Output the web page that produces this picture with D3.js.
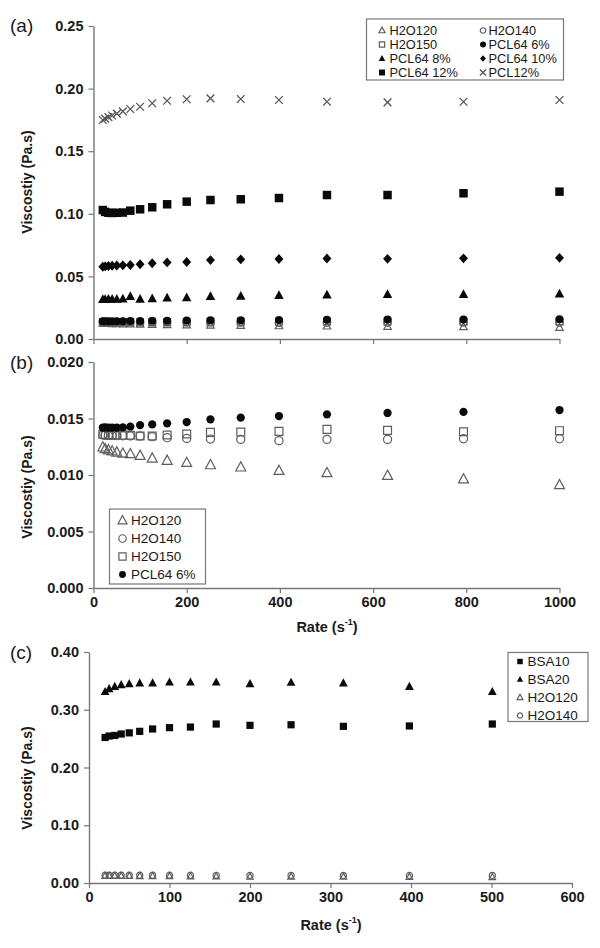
<!DOCTYPE html>
<html><head><meta charset="utf-8">
<script src="https://cdnjs.cloudflare.com/ajax/libs/d3/7.8.5/d3.min.js"></script>
<style>
body{margin:0;background:#fff;}
svg{display:block;font-family:"Liberation Sans",Arial,sans-serif;}
</style></head>
<body><svg id="c" width="600" height="948"></svg>
<script>
// ---------- data ----------
const rateAB = [20,25,32,40,50,63,79,100,126,158,200,251,316,398,501,631,794,1000];
const h2o120 = [0.01245,0.0123,0.0122,0.0121,0.0120,0.0119,0.01186,0.01171,0.01147,0.01127,0.01109,0.01088,0.01068,0.01038,0.01018,0.00994,0.00962,0.00912];
const h2o140 = [0.01354,0.01352,0.0135,0.0135,0.01348,0.01347,0.01346,0.01345,0.01339,0.0133,0.01324,0.01318,0.01315,0.01304,0.01315,0.01315,0.01321,0.01321];
const h2o150 = [0.0136,0.01358,0.01356,0.01355,0.01354,0.01353,0.01352,0.01345,0.01345,0.01354,0.01363,0.01377,0.0138,0.01386,0.01404,0.01395,0.01383,0.01392];
const pcl64_6 = [0.0142,0.01421,0.0142,0.01419,0.0142,0.01421,0.01428,0.01442,0.01448,0.01457,0.01469,0.01493,0.01507,0.01522,0.01537,0.01549,0.01558,0.01575];
const pcl64_8 = [0.0315,0.0316,0.0317,0.0318,0.0318,0.0319,0.0340,0.0318,0.0321,0.0328,0.0330,0.0340,0.0342,0.0347,0.0352,0.0355,0.0356,0.0359];
const pcl64_10 = [0.0577,0.0580,0.0583,0.0585,0.0587,0.0589,0.0591,0.0597,0.0605,0.0612,0.0615,0.0630,0.0636,0.0639,0.0643,0.0640,0.0644,0.0648];
const pcl64_12 = [0.1030,0.1015,0.1008,0.1007,0.1008,0.1010,0.1025,0.1036,0.1052,0.1076,0.1097,0.1110,0.1116,0.1126,0.1150,0.1150,0.1164,0.1177];
const pcl12 = [0.1749,0.1760,0.1772,0.1785,0.1800,0.1818,0.1837,0.1855,0.1883,0.1903,0.1915,0.1922,0.1917,0.1909,0.1895,0.1890,0.1895,0.1909];

const rateC = [20,25,32,40,50,63,79,100,126,158,200,251,316,398,501];
const bsa10 = [0.252,0.2545,0.2555,0.258,0.260,0.2626,0.2667,0.269,0.270,0.2753,0.273,0.274,0.2713,0.2719,0.2753];
const bsa20 = [0.331,0.336,0.340,0.343,0.3446,0.346,0.346,0.3475,0.3475,0.3475,0.3446,0.347,0.346,0.340,0.331];
const h2o120c = [0.0124,0.0123,0.0122,0.0121,0.0120,0.0119,0.0119,0.0117,0.0115,0.0113,0.0111,0.0109,0.0107,0.0104,0.0102];
const h2o140c = [0.0135,0.0135,0.0135,0.0135,0.0135,0.0135,0.0135,0.0134,0.0134,0.0133,0.0132,0.0132,0.0131,0.0130,0.0131];

const ticksAB = [0,200,400,600,800,1000];
const ticksA_y = [0,0.05,0.10,0.15,0.20,0.25];
const ticksB_y = [0,0.005,0.010,0.015,0.020];
const ticksC_x = [0,100,200,300,400,500,600];
const ticksC_y = [0,0.10,0.20,0.30,0.40];

// ---------- symbols ----------
const T = {
  tri:{draw(c,s){const w=Math.sqrt(s),h=w*0.92;c.moveTo(0,-h*0.6);c.lineTo(w/2,h*0.4);c.lineTo(-w/2,h*0.4);c.closePath();}},
  sq:{draw(c,s){const w=Math.sqrt(s)/2;c.moveTo(-w,-w);c.lineTo(w,-w);c.lineTo(w,w);c.lineTo(-w,w);c.closePath();}},
  circ:{draw(c,s){const r=Math.sqrt(s)/2;c.moveTo(r,0);c.arc(0,0,r,0,2*Math.PI);}},
  diam:{draw(c,s){const w=Math.sqrt(s);c.moveTo(0,-w*0.55);c.lineTo(w*0.5,0);c.lineTo(0,w*0.55);c.lineTo(-w*0.5,0);c.closePath();}},
  x:{draw(c,s){const w=Math.sqrt(s)/2;c.moveTo(-w,-w);c.lineTo(w,w);c.moveTo(w,-w);c.lineTo(-w,w);}}
};
function styleSym(sel, kind){
  if(kind==='open'){sel.attr('fill','none').attr('stroke','#5e5e5e').attr('stroke-width',1.2);}
  else if(kind==='x'){sel.attr('fill','none').attr('stroke','#555').attr('stroke-width',1.3);}
  else {sel.attr('fill','#0a0a0a').attr('stroke','none');}
}

const svg = d3.select('#c');
const FONT = '"Liberation Sans",Arial,sans-serif';

function drawAxes(g, x, y, xTicks, yTicks, yFmt, showXLabels){
  const ya = g.append('g').attr('transform',`translate(${x.range()[0]},0)`)
    .call(d3.axisLeft(y).tickValues(yTicks).tickFormat(d3.format(yFmt)).tickSize(5).tickSizeOuter(0).tickPadding(5));
  const xa = g.append('g').attr('transform',`translate(0,${y.range()[0]})`)
    .call(d3.axisBottom(x).tickValues(xTicks).tickFormat(showXLabels? d3.format('d') : '').tickSize(5).tickSizeOuter(0).tickPadding(4));
  [ya,xa].forEach(a=>{
    a.select('.domain').attr('stroke','#777').attr('stroke-width',1.4);
    a.selectAll('.tick line').attr('stroke','#777').attr('stroke-width',1.2);
    a.selectAll('.tick text').attr('fill','#1a1a1a').style('font-family',FONT).style('font-weight','bold').style('font-size','14.5px');
  });
}
function yTitle(cx, cy){
  svg.append('text').attr('transform',`translate(${cx},${cy}) rotate(-90)`)
    .attr('text-anchor','middle').attr('dominant-baseline','central')
    .style('font-family',FONT).style('font-weight','bold').style('font-size','14px').attr('fill','#1a1a1a')
    .text('Viscostiy (Pa.s)');
}
function xTitle(cx, cy){
  const t = svg.append('text').attr('x',cx).attr('y',cy).attr('text-anchor','middle').attr('dominant-baseline','central')
    .style('font-family',FONT).style('font-weight','bold').style('font-size','14.5px').attr('fill','#1a1a1a');
  t.append('tspan').text('Rate (s');
  t.append('tspan').attr('dy',-5).style('font-size','9px').text('-1');
  t.append('tspan').attr('dy',5).text(')');
}
function panelLabel(txt, x, y){
  svg.append('text').attr('x',x).attr('y',y).attr('dominant-baseline','central')
    .style('font-family',FONT).style('font-size','19px').attr('fill','#1a1a1a').text(txt);
}
function series(g, x, y, xs, ys, type, size, kind){
  const sym = d3.symbol().type(T[type]).size(size);
  const s = g.append('g').selectAll('path').data(xs.map((d,i)=>[d,ys[i]])).join('path')
    .attr('transform',d=>`translate(${x(d[0])},${y(d[1])})`).attr('d',sym);
  styleSym(s, kind);
}
function legend(g, box, rows, fontSize){
  g.append('rect').attr('x',box[0]).attr('y',box[1]).attr('width',box[2]).attr('height',box[3])
    .attr('fill','#fff').attr('stroke','#777').attr('stroke-width',1.2);
  rows.forEach(r=>{
    const p = g.append('path').attr('transform',`translate(${r.sx},${r.y})`).attr('d',d3.symbol().type(T[r.type]).size(r.size));
    styleSym(p, r.kind);
    g.append('text').attr('x',r.tx).attr('y',r.y).attr('dominant-baseline','central')
      .style('font-family',FONT).style('font-size',fontSize+'px').attr('fill','#1a1a1a').text(r.label);
  });
}

// ---------- panel (a) ----------
const xA = d3.scaleLinear().domain([0,1000]).range([93.5,559.5]);
const yA = d3.scaleLinear().domain([0,0.25]).range([339,26]);
const gA = svg.append('g');
drawAxes(gA, xA, yA, ticksAB, ticksA_y, '.2f', false);
series(gA,xA,yA,rateAB,h2o120,'tri',56,'open');
series(gA,xA,yA,rateAB,h2o140,'circ',56,'open');
series(gA,xA,yA,rateAB,h2o150,'sq',46,'open');
series(gA,xA,yA,rateAB,pcl64_6,'circ',64,'fill');
series(gA,xA,yA,rateAB,pcl64_8,'tri',90,'fill');
series(gA,xA,yA,rateAB,pcl64_10,'diam',80,'fill');
series(gA,xA,yA,rateAB,pcl64_12,'sq',72,'fill');
series(gA,xA,yA,rateAB,pcl12,'x',60,'x');
legend(gA,[366.5,19,197,61],[
  {label:'H2O120',type:'tri',size:38,kind:'open',sx:382,tx:389.5,y:30.5},
  {label:'H2O150',type:'sq',size:28,kind:'open',sx:382,tx:389.5,y:44.5},
  {label:'PCL64 8%',type:'tri',size:42,kind:'fill',sx:382,tx:389.5,y:58.5},
  {label:'PCL64 12%',type:'sq',size:36,kind:'fill',sx:382,tx:389.5,y:72.5},
  {label:'H2O140',type:'circ',size:30,kind:'open',sx:483,tx:488.5,y:30.5},
  {label:'PCL64 6%',type:'circ',size:36,kind:'fill',sx:483,tx:488.5,y:44.5},
  {label:'PCL64 10%',type:'diam',size:34,kind:'fill',sx:483,tx:488.5,y:58.5},
  {label:'PCL12%',type:'x',size:38,kind:'x',sx:483,tx:488.5,y:72.5}
], 12.8);
panelLabel('(a)',10,25);
yTitle(27,182);

// ---------- panel (b) ----------
const xB = d3.scaleLinear().domain([0,1000]).range([93.5,559.5]);
const yB = d3.scaleLinear().domain([0,0.020]).range([588,362]);
const gB = svg.append('g');
drawAxes(gB, xB, yB, ticksAB, ticksB_y, '.3f', true);
series(gB,xB,yB,rateAB,h2o120,'tri',100,'open');
series(gB,xB,yB,rateAB,h2o140,'circ',66,'open');
series(gB,xB,yB,rateAB,h2o150,'sq',62,'open');
series(gB,xB,yB,rateAB,pcl64_6,'circ',68,'fill');
legend(gB,[109.5,509,96,75],[
  {label:'H2O120',type:'tri',size:80,kind:'open',sx:122.5,tx:131,y:520.5},
  {label:'H2O140',type:'circ',size:56,kind:'open',sx:122.5,tx:131,y:538.5},
  {label:'H2O150',type:'sq',size:52,kind:'open',sx:122.5,tx:131,y:556.5},
  {label:'PCL64 6%',type:'circ',size:48,kind:'fill',sx:122.5,tx:131,y:574.5}
], 13.5);
panelLabel('(b)',10,362);
yTitle(27,487);
xTitle(327,627);

// ---------- panel (c) ----------
const xC = d3.scaleLinear().domain([0,600]).range([89,572]);
const yC = d3.scaleLinear().domain([0,0.40]).range([883,652]);
const gC = svg.append('g');
drawAxes(gC, xC, yC, ticksC_x, ticksC_y, '.2f', true);
series(gC,xC,yC,rateC,h2o120c,'tri',44,'open');
series(gC,xC,yC,rateC,h2o140c,'circ',38,'open');
series(gC,xC,yC,rateC,bsa10,'sq',52,'fill');
series(gC,xC,yC,rateC,bsa20,'tri',78,'fill');
legend(gC,[508,652.5,80,69],[
  {label:'BSA10',type:'sq',size:30,kind:'fill',sx:520,tx:527.5,y:661.5},
  {label:'BSA20',type:'tri',size:40,kind:'fill',sx:520,tx:527.5,y:679.5},
  {label:'H2O120',type:'tri',size:36,kind:'open',sx:520,tx:527.5,y:697.5},
  {label:'H2O140',type:'circ',size:28,kind:'open',sx:520,tx:527.5,y:715.5}
], 13.5);
panelLabel('(c)',10,652);
yTitle(27,778);
xTitle(331,925);
</script></body></html>
